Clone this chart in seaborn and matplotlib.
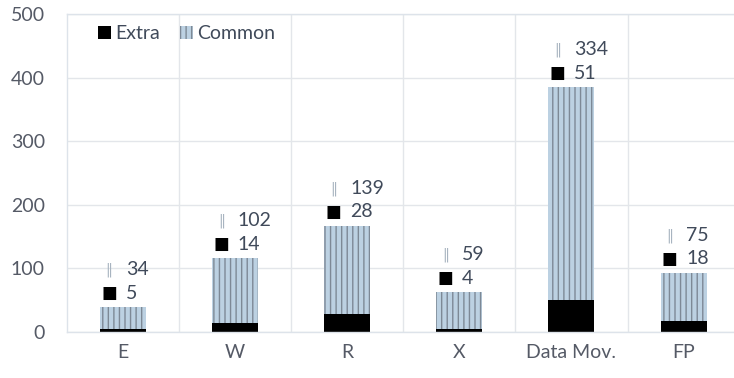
import matplotlib
matplotlib.use("Agg")
import matplotlib.pyplot as plt
from matplotlib.patches import Patch
import seaborn as sns
import pandas as pd

categories = ["E", "W", "R", "X", "Data Mov.", "FP"]
extra = [5, 14, 28, 4, 51, 18]
common = [34, 102, 139, 59, 334, 75]

total = [e + c for e, c in zip(extra, common)]
df = pd.DataFrame({"cat": categories, "extra": extra, "common": common, "total": total})

sns.set_theme(style="white")
plt.rcParams["font.family"] = ["Lato", "DejaVu Sans"]
plt.rcParams["hatch.linewidth"] = 1.0

TXT = "#404a5a"
COMMON_FILL = "#bcd1e2"
STRIPE = "#7d8996"

fig = plt.figure(figsize=(7.34, 3.78), dpi=100)
ax = fig.add_axes([67 / 734, 1 - 332 / 378, (734 - 67) / 734, (332 - 14) / 378])

sns.barplot(data=df, x="cat", y="total", color=COMMON_FILL, saturation=1,
            width=0.41, hatch="|||", edgecolor=STRIPE, linewidth=0, ax=ax)
sns.barplot(data=df, x="cat", y="extra", color="black", saturation=1,
            width=0.41, edgecolor="black", linewidth=0, ax=ax)

ax.set_ylim(0, 500)
ax.set_xlim(-0.5, 5.45)
ax.set_yticks([0, 100, 200, 300, 400, 500])
ax.set_xlabel("")
ax.set_ylabel("")
ax.yaxis.grid(True, color="#e3e6ea", linewidth=1)
for b in range(1, 6):
    ax.axvline(b - 0.5, color="#e3e6ea", linewidth=1, zorder=0)
ax.set_axisbelow(True)
for s in ["top", "left", "right", "bottom"]:
    ax.spines[s].set_color("#dde3ea")
    ax.spines[s].set_linewidth(1)
ax.spines["right"].set_visible(False)
ax.tick_params(axis="both", length=0, labelsize=14, colors="#555a66")
ax.tick_params(axis="y", pad=16)
ax.tick_params(axis="x", pad=9)

for i, (e, c, t) in enumerate(zip(extra, common, total)):
    ax.annotate("■", xy=(i, t), xytext=(-10, 10), textcoords="offset points",
                ha="center", va="center", fontsize=12, color="black",
                family=["DejaVu Sans"])
    ax.annotate(f"{e}", xy=(i, t), xytext=(2, 10), textcoords="offset points",
                ha="left", va="center", fontsize=14, color=TXT)
    ax.annotate("‖", xy=(i, t), xytext=(-10, 27), textcoords="offset points",
                ha="center", va="center", fontsize=10, color="#a8b4c0",
                family=["DejaVu Sans"])
    ax.annotate(f"{c}", xy=(i, t), xytext=(2, 27), textcoords="offset points",
                ha="left", va="center", fontsize=14, color=TXT)

handles = [Patch(facecolor="black", edgecolor="black", linewidth=0),
           Patch(facecolor=COMMON_FILL, edgecolor=STRIPE, hatch="|||", linewidth=0)]
leg = ax.legend(handles, ["Extra", "Common"], loc="upper left", ncol=2,
                frameon=False, fontsize=14, handlelength=0.7, handleheight=0.7,
                handletextpad=0.2, columnspacing=1.0, bbox_to_anchor=(0.02, 1.02))
for t in leg.get_texts():
    t.set_color(TXT)

fig.savefig("out.png", dpi=100)
